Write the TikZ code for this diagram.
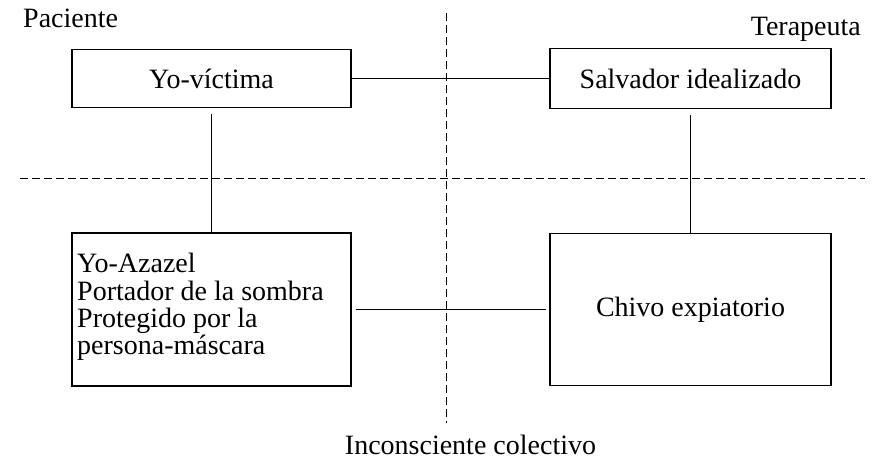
\documentclass[tikz,border=0pt]{standalone}
\usepackage{fontspec}
\setmainfont{Liberation Serif}
\begin{document}
\begin{tikzpicture}[x=1pt,y=-1pt,
  txt/.style={font=\fontsize{28}{27.3}\selectfont, inner sep=0pt},
  boxnode/.style={draw, line width=1.2pt, inner sep=0pt, font=\fontsize{28}{27.3}\selectfont},
  link/.style={line width=1.2pt},
  divider/.style={line width=1pt, dash pattern=on 8pt off 4pt}]
\useasboundingbox (0,0) rectangle (879,467);
% labels
\node[txt, anchor=base west] (pac) at (23,27) {Paciente};
\node[txt, anchor=base east] (ter) at (861,35) {Terapeuta};
\node[txt, anchor=base] (inc) at (470.5,454) {Inconsciente colectivo};
% dividers
\coordinate (hl) at (20,178);
\coordinate (hr) at (865,178);
\coordinate (vt) at (446,13);
\coordinate (vb) at (446,423);
\draw[divider] (hl) -- (hr);
\draw[divider] (vt) -- (vb);
% boxes
\node[boxnode, minimum width=279pt, minimum height=58pt] (b1) at (211.5,78.5) {Yo-víctima};
\node[boxnode, minimum width=281pt, minimum height=60pt] (b2) at (690.5,78.5) {Salvador idealizado};
\node[boxnode, minimum width=279pt, minimum height=153pt] (b3) at (211.5,309.5) {};
\node[txt, anchor=west, align=left] (b3t) at (77,307) {Yo-Azazel\\Portador de la sombra\\Protegido por la\\persona-máscara};
\node[boxnode, minimum width=281pt, minimum height=152pt] (b4) at (690.5,309.5) {Chivo expiatorio};
% connectors
\draw[link] (b1) -- (b2);
\draw[link, shorten <=6pt] (b1.south) -- (b3.north);
\draw[link, shorten <=6pt] (b2.south) -- (b4.north);
\draw[link, shorten <=4pt, shorten >=3pt] (b3) -- (b4);
\end{tikzpicture}
\end{document}
